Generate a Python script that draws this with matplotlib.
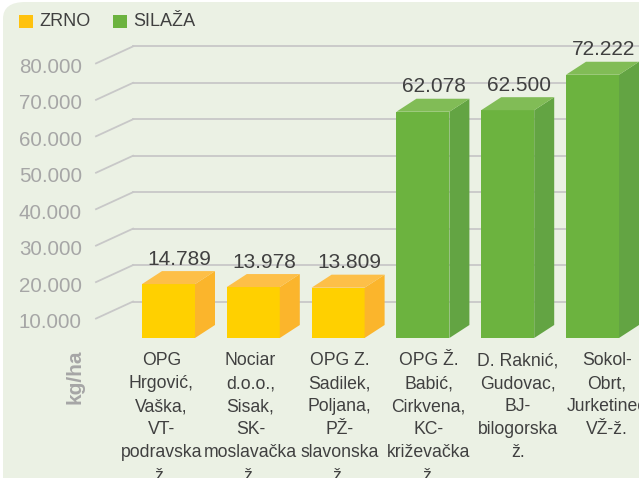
import matplotlib
matplotlib.use("Agg")
import matplotlib.pyplot as plt
from matplotlib.patches import Polygon, Rectangle, FancyBboxPatch

plt.rcParams["font.family"] = ["Liberation Sans", "DejaVu Sans"]

# data
categories = [
    "OPG\nHrgović,\nVaška,\nVT-\npodravska\nž.",
    "Nociar\nd.o.o.,\nSisak,\nSK-\nmoslavačka\nž.",
    "OPG Z.\nSadilek,\nPoljana,\nPŽ-\nslavonska\nž.",
    "OPG Ž.\nBabić,\nCirkvena,\nKC-\nkriževačka\nž.",
    "D. Raknić,\nGudovac,\nBJ-\nbilogorska\nž.",
    "Sokol-\nObrt,\nJurketinec\nVŽ-ž.",
]
values = [14789, 13978, 13809, 62078, 62500, 72222]
groups = ["ZRNO", "ZRNO", "ZRNO", "SILAŽA", "SILAŽA", "SILAŽA"]
value_labels = ["14.789", "13.978", "13.809", "62.078", "62.500", "72.222"]
yticks = [10000, 20000, 30000, 40000, 50000, 60000, 70000, 80000]
ytick_labels = ["10.000", "20.000", "30.000", "40.000", "50.000", "60.000", "70.000", "80.000"]

colors = {
    "ZRNO": {"front": "#FFD000", "side": "#FBB52C", "top": "#FDBF48", "legend": "#FFC20E"},
    "SILAŽA": {"front": "#6CB33F", "side": "#63A443", "top": "#81BC56", "legend": "#6CB33F"},
}

W, H = 639, 478
fig = plt.figure(figsize=(W / 100, H / 100), dpi=100)
fig.patch.set_facecolor("white")

ax = fig.add_axes([0, 0, 1, 1])
ax.set_facecolor("none")
ax.axis("off")

# panel background (rounded, runs off the right and bottom edges)
bg = FancyBboxPatch((3 / W, -0.2), 1.2, 1.2 - 2 / H, boxstyle="round,pad=0,rounding_size=0.035",
                    transform=fig.transFigure, facecolor="#EBF1E4", edgecolor="none",
                    zorder=0, clip_on=False)
ax.add_patch(bg)

# pixel <-> data scale of the bar plane
px_x0, px_step = 168.5, 84.8      # x pixel of category 0, spacing
px_y0, k = 338.0, 36.45 / 10000   # floor pixel, pixels per unit
ax.set_xlim(-px_x0 / px_step, (W - px_x0) / px_step)
ax.set_ylim((px_y0 - H) / k, px_y0 / k)


def ux(px):
    return px / px_step


def uy(px):
    return px / k


bar_w = 53 / px_step
dx, dy = ux(20), uy(13)          # bar depth
fdx, fdy = ux(-37), uy(-17)      # from back wall to front plane

# gridlines on the back wall + diagonal on the left side wall
wall_x = ux(133 - px_x0)
for v in yticks:
    ax.plot([wall_x, 10], [v, v], color="#C8C8C8", lw=1.3, zorder=1)
    ax.plot([wall_x + fdx, wall_x], [v + fdy, v], color="#C8C8C8", lw=1.3, zorder=1)

for v, lab in zip(yticks, ytick_labels):
    ax.text(ux(82 - px_x0), v + fdy - uy(4), lab, ha="right", va="center",
            fontsize=14.8, color="#A6A6A6", zorder=2)

# 3d-looking bars
for i, (v, g) in enumerate(zip(values, groups)):
    c = colors[g]
    ax.bar(i, v, width=bar_w, color=c["front"], zorder=3)
    x0, x1 = i - bar_w / 2, i + bar_w / 2
    ax.add_patch(Polygon([(x1, 0), (x1 + dx, dy), (x1 + dx, v + dy), (x1, v)],
                         closed=True, facecolor=c["side"], edgecolor="none", zorder=3))
    ax.add_patch(Polygon([(x0, v), (x0 + dx, v + dy), (x1 + dx, v + dy), (x1, v)],
                         closed=True, facecolor=c["top"], edgecolor="none", zorder=3))
    ax.text(i + dx / 2 + ux(1), v + dy + uy(6.5), value_labels[i], ha="center",
            va="baseline", fontsize=15, color="#404040", zorder=4)

# category labels on the front plane
for i, lab in enumerate(categories):
    ax.text(ux(161.4 + 89.1 * i - px_x0), uy(px_y0 - 352), lab, ha="center", va="top",
            fontsize=12.7, color="#404040", linespacing=1.47, zorder=4)

ax.text(ux(75 - px_x0), uy(px_y0 - 377), "kg/ha", rotation=90, ha="center", va="center",
        fontsize=15, fontweight="bold", color="#A6A6A6", zorder=4)

# legend
for xs, g in [(19, "ZRNO"), (113, "SILAŽA")]:
    ax.add_patch(Rectangle((xs / W, 1 - 28 / H), 14 / W, 13 / H, transform=fig.transFigure,
                           facecolor=colors[g]["legend"], edgecolor="none", zorder=4))
    ax.text((xs + 20) / W, 1 - 22 / H, g, transform=fig.transFigure, ha="left", va="center",
            fontsize=13, color="#404040", zorder=4)

fig.savefig("out.png", dpi=100, facecolor="white")
